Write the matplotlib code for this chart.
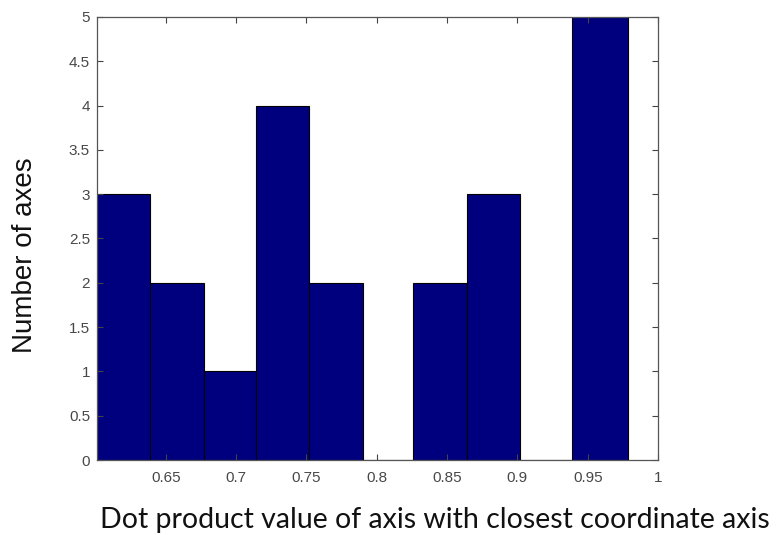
import numpy as np
import matplotlib.pyplot as plt

# histogram of per-axis dot products (10 bins)
bin_edges = [0.601, 0.639, 0.677, 0.714, 0.752, 0.790, 0.826, 0.864, 0.902, 0.939, 0.979]
counts = [3, 2, 1, 4, 2, 0, 2, 3, 0, 5]

x_ticks = [0.65, 0.7, 0.75, 0.8, 0.85, 0.9, 0.95, 1.0]
x_tick_labels = ['0.65', '0.7', '0.75', '0.8', '0.85', '0.9', '0.95', '1']
y_ticks = [0, 0.5, 1, 1.5, 2, 2.5, 3, 3.5, 4, 4.5, 5]
y_tick_labels = ['0', '0.5', '1', '1.5', '2', '2.5', '3', '3.5', '4', '4.5', '5']

fig = plt.figure(figsize=(7.82, 5.35), dpi=100)
ax = fig.add_axes([97 / 782, 1 - 460 / 535, (658 - 97) / 782, (460 - 17) / 535])

ax.hist(bin_edges[:-1], bins=bin_edges, weights=counts,
        facecolor='#00007f', edgecolor='black', linewidth=0.8)

ax.set_xlim(0.601, 1.0)
ax.set_ylim(0, 5)
ax.set_xticks(x_ticks)
ax.set_xticklabels(x_tick_labels)
ax.set_yticks(y_ticks)
ax.set_yticklabels(y_tick_labels)

# matlab-style inward ticks on all sides
ax.tick_params(direction='in', top=True, right=True, length=4, width=0.8,
               labelsize=11, labelcolor='#484848', color='#444444')
ax.tick_params(axis='x', pad=8)
ax.tick_params(axis='y', pad=5)
for lbl in ax.get_xticklabels() + ax.get_yticklabels():
    lbl.set_family('Liberation Sans')
for s in ax.spines.values():
    s.set_color('#555555')
    s.set_linewidth(0.9)

fig.text(100 / 782, 1 - 520 / 535, 'Dot product value of axis with closest coordinate axis',
         fontsize=20.5, family='Lato', color='#111111', va='center', ha='left')
fig.text(25 / 782, 1 - 255 / 535, 'Number of axes', fontsize=20, family='Liberation Sans',
         color='#111111', rotation=90, va='center', ha='center')

plt.savefig('out.png', dpi=100)
